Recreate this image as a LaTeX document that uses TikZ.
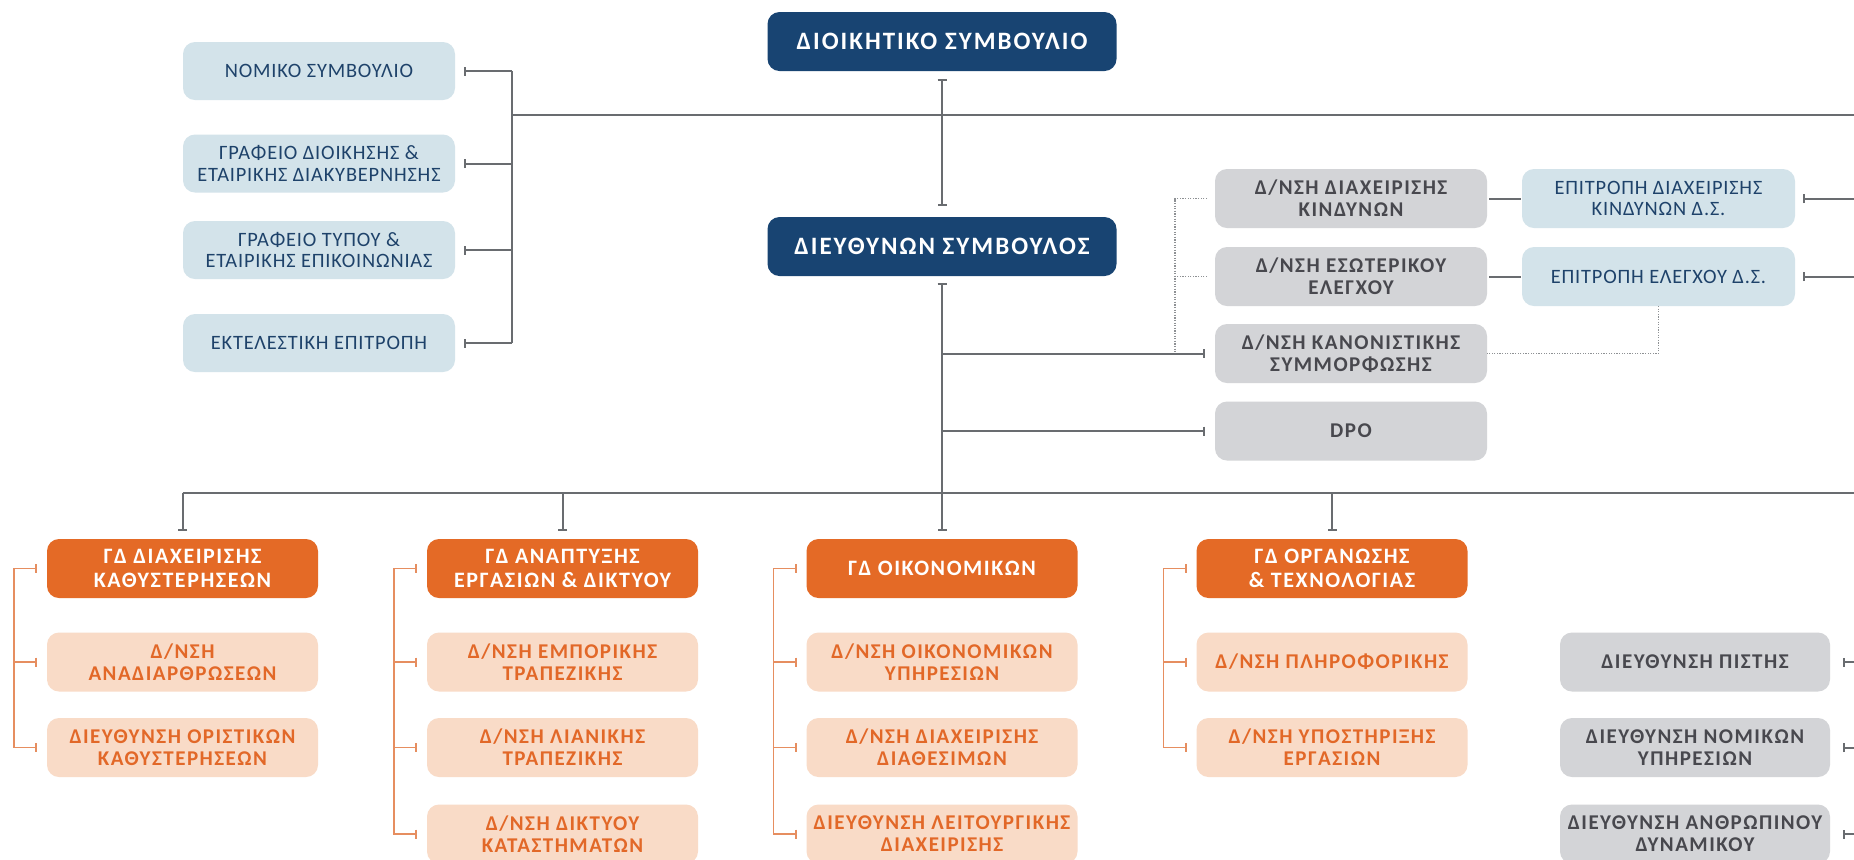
\documentclass[tikz,border=0pt]{standalone}
\usepackage{fontspec}
\setmainfont{Carlito}
\usetikzlibrary{arrows.meta,calc}
\definecolor{navy}{RGB}{24,68,114}
\definecolor{lblue}{RGB}{211,227,234}
\definecolor{lbluetext}{RGB}{30,66,106}
\definecolor{gbox}{RGB}{211,212,215}
\definecolor{gtext}{RGB}{72,72,78}
\definecolor{orng}{RGB}{228,106,38}
\definecolor{lorng}{RGB}{249,219,199}
\definecolor{otext}{RGB}{226,104,40}
\definecolor{lgrey}{RGB}{105,108,112}
\definecolor{obrc}{RGB}{230,142,96}
\begin{document}
\begin{tikzpicture}[x=0.5pt,y=-0.5pt,
  box/.style={rounded corners=6pt, inner sep=1pt, outer sep=0pt, align=center},
  navybox/.style={box, fill=navy, text=white, minimum width=174.5pt, minimum height=29.5pt,
    font=\bfseries\fontsize{12.5}{14}\selectfont\addfontfeatures{LetterSpace=8}},
  bluebox/.style={box, fill=lblue, text=lbluetext, minimum width=136pt, minimum height=29pt,
    font=\fontsize{10.2}{10.8}\selectfont\addfontfeatures{LetterSpace=4}},
  greybox/.style={box, fill=gbox, text=gtext, minimum width=136pt, minimum height=29.5pt,
    font=\bfseries\fontsize{10.5}{11}\selectfont\addfontfeatures{LetterSpace=7}},
  ohead/.style={box, fill=orng, text=white, minimum width=135.5pt, minimum height=29.5pt,
    font=\bfseries\fontsize{11}{11.7}\selectfont\addfontfeatures{LetterSpace=7}},
  osub/.style={box, fill=lorng, text=otext, minimum width=135.5pt, minimum height=29.5pt,
    font=\bfseries\fontsize{10.5}{11}\selectfont\addfontfeatures{LetterSpace=7}},
  conn/.style={draw=lgrey, line width=1pt},
  dotconn/.style={draw=lgrey!75, line width=0.7pt, dash pattern=on 0.6pt off 0.7pt},
  obr/.style={draw=obrc, line width=0.8pt},
  tee/.tip={Bar[width=4.5pt]}
]
\useasboundingbox (0,0) rectangle (1854,859);
\clip (0,0) rectangle (1854,859);
\fill[white] (0,0) rectangle (1854,859);

% top
\node[navybox] (A) at (942,41.5) {ΔΙΟΙΚΗΤΙΚΟ ΣΥΜΒΟΥΛΙΟ};
\node[navybox] (B) at (942,246.5) {ΔΙΕΥΘΥΝΩΝ ΣΥΜΒΟΥΛΟΣ};

% left column
\node[bluebox] (l1) at (319,71) {ΝΟΜΙΚΟ ΣΥΜΒΟΥΛΙΟ};
\node[bluebox] (l2) at (319,163.5) {ΓΡΑΦΕΙΟ ΔΙΟΙΚΗΣΗΣ \&\\ΕΤΑΙΡΙΚΗΣ ΔΙΑΚΥΒΕΡΝΗΣΗΣ};
\node[bluebox] (l3) at (319,250) {ΓΡΑΦΕΙΟ ΤΥΠΟΥ \&\\ΕΤΑΙΡΙΚΗΣ ΕΠΙΚΟΙΝΩΝΙΑΣ};
\node[bluebox] (l4) at (319,343) {ΕΚΤΕΛΕΣΤΙΚΗ ΕΠΙΤΡΟΠΗ};

% grey staff units
\node[greybox] (g1) at (1351,198.5) {Δ/ΝΣΗ ΔΙΑΧΕΙΡΙΣΗΣ\\ΚΙΝΔΥΝΩΝ};
\node[greybox] (g2) at (1351,276.5) {Δ/ΝΣΗ ΕΣΩΤΕΡΙΚΟΥ\\ΕΛΕΓΧΟΥ};
\node[greybox] (g3) at (1351,353.5) {Δ/ΝΣΗ ΚΑΝΟΝΙΣΤΙΚΗΣ\\ΣΥΜΜΟΡΦΩΣΗΣ};
\node[greybox] (g4) at (1351,431) {DPO};

% board committees
\node[bluebox, minimum width=136.5pt, minimum height=29.5pt] (b1) at (1658.5,198.5) {ΕΠΙΤΡΟΠΗ ΔΙΑΧΕΙΡΙΣΗΣ\\ΚΙΝΔΥΝΩΝ Δ.Σ.};
\node[bluebox, minimum width=136.5pt, minimum height=29.5pt] (b2) at (1658.5,276.5) {ΕΠΙΤΡΟΠΗ ΕΛΕΓΧΟΥ Δ.Σ.};

% general divisions
\node[ohead] (h1) at (182.5,568.5) {ΓΔ ΔΙΑΧΕΙΡΙΣΗΣ\\ΚΑΘΥΣΤΕΡΗΣΕΩΝ};
\node[ohead] (h2) at (562.5,568.5) {ΓΔ ΑΝΑΠΤΥΞΗΣ\\ΕΡΓΑΣΙΩΝ \& ΔΙΚΤΥΟΥ};
\node[ohead] (h3) at (942,568.5) {ΓΔ ΟΙΚΟΝΟΜΙΚΩΝ};
\node[ohead] (h4) at (1332,568.5) {ΓΔ ΟΡΓΑΝΩΣΗΣ\\\& ΤΕΧΝΟΛΟΓΙΑΣ};

\node[osub] (s11) at (182.5,662) {Δ/ΝΣΗ\\ΑΝΑΔΙΑΡΘΡΩΣΕΩΝ};
\node[osub] (s12) at (182.5,747.5) {ΔΙΕΥΘΥΝΣΗ ΟΡΙΣΤΙΚΩΝ\\ΚΑΘΥΣΤΕΡΗΣΕΩΝ};
\node[osub] (s21) at (562.5,662) {Δ/ΝΣΗ ΕΜΠΟΡΙΚΗΣ\\ΤΡΑΠΕΖΙΚΗΣ};
\node[osub] (s22) at (562.5,747.5) {Δ/ΝΣΗ ΛΙΑΝΙΚΗΣ\\ΤΡΑΠΕΖΙΚΗΣ};
\node[osub] (s23) at (562.5,834) {Δ/ΝΣΗ ΔΙΚΤΥΟΥ\\ΚΑΤΑΣΤΗΜΑΤΩΝ};
\node[osub] (s31) at (942,662) {Δ/ΝΣΗ ΟΙΚΟΝΟΜΙΚΩΝ\\ΥΠΗΡΕΣΙΩΝ};
\node[osub] (s32) at (942,747.5) {Δ/ΝΣΗ ΔΙΑΧΕΙΡΙΣΗΣ\\ΔΙΑΘΕΣΙΜΩΝ};
\node[osub] (s33) at (942,834) {ΔΙΕΥΘΥΝΣΗ ΛΕΙΤΟΥΡΓΙΚΗΣ\\ΔΙΑΧΕΙΡΙΣΗΣ};
\node[osub] (s41) at (1332,662) {Δ/ΝΣΗ ΠΛΗΡΟΦΟΡΙΚΗΣ};
\node[osub] (s42) at (1332,747.5) {Δ/ΝΣΗ ΥΠΟΣΤΗΡΙΞΗΣ\\ΕΡΓΑΣΙΩΝ};

% right grey column
\node[greybox, minimum width=135pt] (r1) at (1695,662) {ΔΙΕΥΘΥΝΣΗ ΠΙΣΤΗΣ};
\node[greybox, minimum width=135pt] (r2) at (1695,747.5) {ΔΙΕΥΘΥΝΣΗ ΝΟΜΙΚΩΝ\\ΥΠΗΡΕΣΙΩΝ};
\node[greybox, minimum width=135pt] (r3) at (1695,834) {ΔΙΕΥΘΥΝΣΗ ΑΝΘΡΩΠΙΝΟΥ\\ΔΥΝΑΜΙΚΟΥ};

% helper coordinates
\coordinate (R) at (1854,0);
\coordinate (busL) at (512,115);
\coordinate (hBotL) at (182.5,493);
\coordinate (dotx) at (1175,0);

% board to CEO
\draw[conn,{tee}-{tee}] ($(A.south)+(0,8)$) -- ($(B.north)+(0,-11)$);
\draw[conn] (busL) -- (busL -| R);
\draw[conn] (busL |- l1) -- (busL |- l4);
\foreach \n in {l1,l2,l3,l4}{
  \draw[conn,-{tee}] (busL |- \n) -- ($(\n.east)+(9,0)$);
}

% CEO down
\draw[conn,{tee}-{tee}] ($(B.south)+(0,7)$) -- ($(h3.north)+(0,-8)$);
\draw[conn,-{tee}] (B.south |- g3) -- ($(g3.west)+(-10,0)$);
\draw[conn,-{tee}] (B.south |- g4) -- ($(g4.west)+(-10,0)$);

% dotted links
\draw[dotconn] ($(g1.west)+(-8,0)$) -- (dotx |- g1) -- ($(dotx |- g3)+(0,-0.5)$);
\draw[dotconn] ($(g2.west)+(-8,0)$) -- (dotx |- g2);
\draw[dotconn] (b2.south) -- (b2.south |- g3) -- (g3.east);

% grey to committees
\draw[conn] ($(g1.east)+(2,0)$) -- ($(b1.west)+(-1,0)$);
\draw[conn] ($(g2.east)+(2,0)$) -- ($(b2.west)+(-1,0)$);
\draw[conn,{tee}-] ($(b1.east)+(8,0)$) -- (b1 -| R);
\draw[conn,{tee}-] ($(b2.east)+(8,0)$) -- (b2 -| R);

% bottom bus
\draw[conn] (hBotL) -- (hBotL -| R);
\foreach \n in {h1,h2,h4}{
  \draw[conn,-{tee}] (\n.north |- hBotL) -- ($(\n.north)+(0,-8)$);
}

% orange brackets
\coordinate (k1) at ($(h1.west)+(-33,0)$);
\coordinate (k2) at ($(h2.west)+(-33,0)$);
\coordinate (k3) at ($(h3.west)+(-33,0)$);
\coordinate (k4) at ($(h4.west)+(-33,0)$);
\draw[obr,{tee}-{tee}] ($(h1.west)+(-10,0)$) -- (k1) |- ($(s12.west)+(-10,0)$);
\draw[obr,-{tee}] (k1 |- s11) -- ($(s11.west)+(-10,0)$);
\draw[obr,{tee}-{tee}] ($(h2.west)+(-10,0)$) -- (k2) |- ($(s23.west)+(-10,0)$);
\draw[obr,-{tee}] (k2 |- s21) -- ($(s21.west)+(-10,0)$);
\draw[obr,-{tee}] (k2 |- s22) -- ($(s22.west)+(-10,0)$);
\draw[obr,{tee}-{tee}] ($(h3.west)+(-10,0)$) -- (k3) |- ($(s33.west)+(-10,0)$);
\draw[obr,-{tee}] (k3 |- s31) -- ($(s31.west)+(-10,0)$);
\draw[obr,-{tee}] (k3 |- s32) -- ($(s32.west)+(-10,0)$);
\draw[obr,{tee}-{tee}] ($(h4.west)+(-10,0)$) -- (k4) |- ($(s42.west)+(-10,0)$);
\draw[obr,-{tee}] (k4 |- s41) -- ($(s41.west)+(-10,0)$);

% right column connectors
\foreach \n in {r1,r2,r3}{
  \draw[conn,{tee}-] ($(\n.east)+(13,0)$) -- (\n -| R);
}
\end{tikzpicture}
\end{document}
